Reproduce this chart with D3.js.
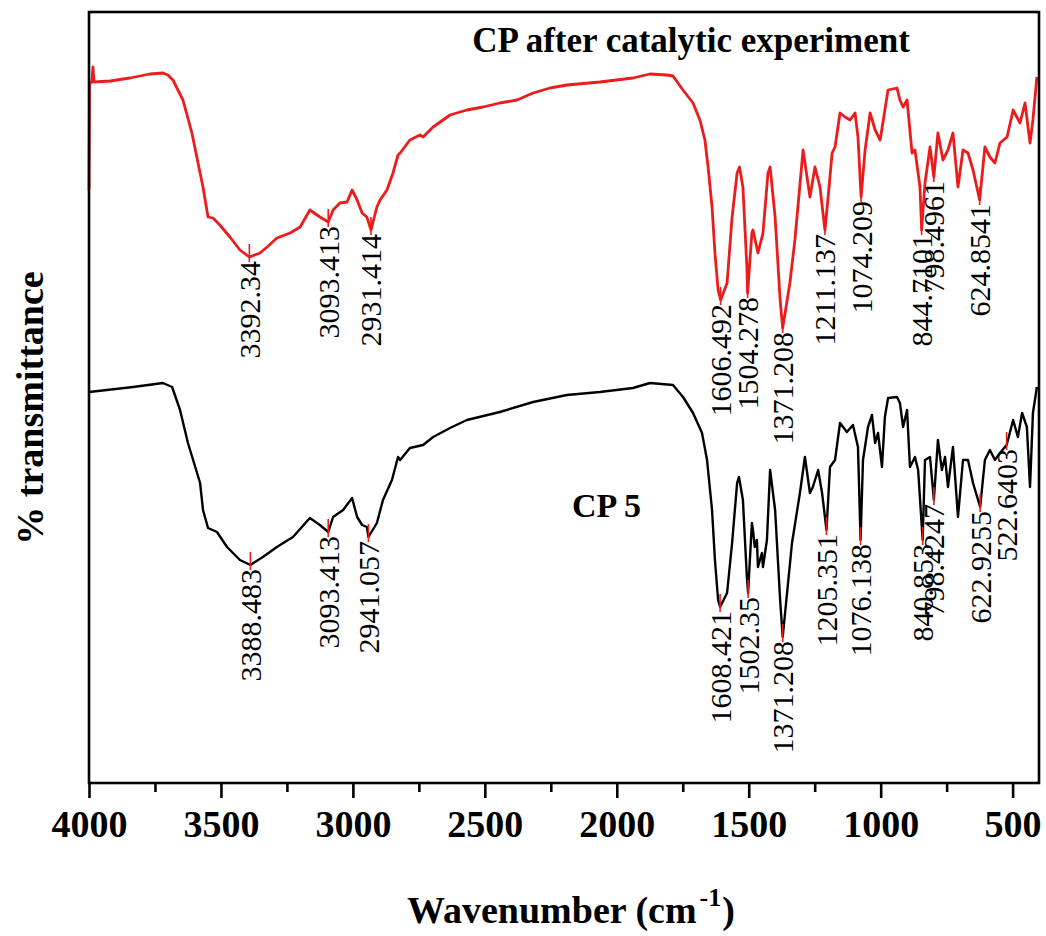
<!DOCTYPE html>
<html>
<head>
<meta charset="utf-8">
<script src="https://cdn.jsdelivr.net/npm/d3@7"></script>
<style>
  html, body { margin: 0; padding: 0; background: #fff; }
  svg { display: block; }
  text { font-family: "Liberation Serif", "Times New Roman", serif; fill: #000; }
</style>
</head>
<body>
<svg id="chart" width="1046" height="936"></svg>
<script>
// FT-IR spectra: [wavenumber (cm-1), transmittance (a.u.)]
const afterCatalysis = [
  [4000, 59.3], [3998, 69.9], [3989, 70.1], [3985, 71.6], [3981, 70.1], [3920, 70.2],
  [3845, 70.5], [3769, 70.9], [3720, 71.0], [3701, 70.8], [3682, 70.3], [3644, 68.3],
  [3610, 65.0], [3579, 61.0], [3568, 59.6], [3549, 56.6], [3530, 56.5], [3504, 55.8],
  [3466, 54.6], [3428, 53.3], [3392.34, 52.6], [3352, 53.0], [3325, 53.6], [3288, 54.5],
  [3238, 55.0], [3200, 55.6], [3163, 57.3], [3125, 56.6], [3093.413, 56.1], [3075, 57.3],
  [3049, 58.0], [3022, 58.1], [3003, 59.3], [2984, 58.3], [2965, 57.0], [2947, 56.6],
  [2931.414, 55.3], [2909, 57.6], [2897, 58.3], [2871, 59.3], [2848, 61.0], [2829, 62.8],
  [2821, 63.0], [2784, 64.3], [2746, 64.8], [2734, 64.6], [2696, 65.6], [2632, 66.8],
  [2568, 67.3], [2507, 67.6], [2443, 68.0], [2378, 68.3], [2317, 69.0], [2253, 69.5],
  [2189, 69.8], [2064, 70.1], [1939, 70.5], [1874, 70.9], [1810, 70.8], [1787, 70.7],
  [1749, 69.3], [1711, 68.0], [1685, 66.3], [1666, 64.3], [1654, 61.6], [1639, 57.6],
  [1628, 53.0], [1616, 49.3], [1606.492, 48.3], [1582, 50.0], [1563, 56.6], [1544, 61.0],
  [1535, 61.6], [1522, 59.6], [1507, 51.6], [1504.278, 49.0], [1488, 55.0], [1484, 55.3],
  [1465, 53.0], [1446, 55.0], [1427, 61.0], [1419, 61.6], [1400, 56.6], [1381, 48.3],
  [1371.208, 45.5], [1344, 50.0], [1325, 54.3], [1294, 63.3], [1268, 58.6], [1249, 61.6],
  [1230, 59.6], [1211.137, 55.3], [1200, 58.3], [1184, 63.0], [1173, 63.6], [1154, 67.0],
  [1135, 66.6], [1116, 66.3], [1097, 67.0], [1086, 64.6], [1074.209, 58.6], [1059, 63.3],
  [1040, 67.0], [1021, 65.3], [1002, 64.3], [984, 67.3], [972, 69.3], [938, 69.5],
  [927, 68.3], [915, 67.6], [900, 68.3], [881, 63.0], [870, 63.3], [851, 59.6],
  [844.7101, 55.3], [832, 60.0], [813, 63.6], [798.4961, 60.6], [783, 65.0], [764, 62.3],
  [745, 63.3], [726, 65.0], [707, 59.6], [688, 63.3], [669, 63.0], [650, 61.3],
  [624.8541, 58.3], [605, 63.6], [586, 62.6], [567, 62.0], [548, 64.0], [521, 64.6],
  [498, 67.3], [472, 66.0], [453, 68.0], [434, 64.0], [423, 66.3], [408, 70.6]
];

const cp5 = [
  [3999, 39.1], [3833, 39.6], [3720, 40.0], [3685, 39.6], [3655, 37.3], [3625, 34.0],
  [3579, 30.0], [3568, 27.3], [3549, 25.5], [3515, 25.1], [3477, 23.6], [3428, 22.3],
  [3388.483, 21.8], [3341, 22.6], [3288, 23.6], [3227, 24.6], [3163, 26.5], [3125, 25.8],
  [3093.413, 25.1], [3075, 26.6], [3037, 27.3], [3003, 28.5], [2984, 26.6], [2965, 25.8],
  [2947, 25.6], [2941.057, 24.6], [2909, 26.0], [2886, 28.3], [2852, 30.3], [2829, 32.6],
  [2821, 32.3], [2784, 33.5], [2734, 33.8], [2696, 34.6], [2632, 35.5], [2568, 36.3],
  [2443, 37.1], [2317, 38.1], [2189, 38.8], [2064, 39.1], [1939, 39.5], [1874, 40.0],
  [1787, 39.8], [1749, 38.6], [1711, 37.0], [1677, 35.0], [1658, 32.3], [1639, 27.3],
  [1628, 22.3], [1616, 18.3], [1608.421, 17.6], [1582, 19.0], [1563, 24.0], [1544, 30.0],
  [1537, 30.6], [1522, 28.3], [1507, 20.6], [1502.35, 19.0], [1488, 26.0], [1484, 25.3],
  [1477, 23.6], [1469, 24.3], [1465, 21.6], [1450, 23.0], [1446, 21.6], [1431, 24.3],
  [1419, 31.3], [1400, 27.3], [1381, 18.3], [1371.208, 14.6], [1336, 24.0], [1306, 29.0],
  [1287, 32.6], [1268, 29.0], [1257, 29.6], [1237, 31.3], [1222, 29.0], [1205.351, 25.3],
  [1192, 31.6], [1173, 32.3], [1154, 36.0], [1128, 35.1], [1105, 35.8], [1086, 33.6],
  [1076.138, 24.3], [1067, 32.3], [1048, 35.6], [1033, 36.8], [1021, 34.0], [1010, 35.0],
  [995, 31.6], [984, 36.6], [972, 38.5], [938, 38.6], [927, 38.0], [915, 35.6],
  [900, 37.3], [889, 31.6], [870, 32.6], [858, 31.3], [840.853, 24.3], [832, 32.3],
  [813, 32.6], [798.4247, 28.3], [783, 34.3], [768, 31.3], [756, 32.6], [745, 29.6],
  [726, 33.6], [707, 26.6], [688, 32.3], [669, 32.3], [650, 30.0], [622.9255, 27.6],
  [605, 32.3], [586, 33.3], [567, 32.3], [548, 33.0], [522.6403, 33.8], [498, 36.3],
  [480, 34.6], [464, 37.0], [446, 35.6], [434, 29.6], [423, 37.0], [408, 39.6]
];

// Labelled band positions (cm-1)
const afterPeaks = [3392.34, 3093.413, 2931.414, 1606.492, 1504.278, 1371.208,
  1211.137, 1074.209, 844.7101, 798.4961, 624.8541];
const cp5Peaks = [3388.483, 3093.413, 2941.057, 1608.421, 1502.35, 1371.208,
  1205.351, 1076.138, 840.853, 798.4247, 622.9255, 522.6403];

const majorTicks = [4000, 3500, 3000, 2500, 2000, 1500, 1000, 500];
const minorTicks = [3750, 3250, 2750, 2250, 1750, 1250, 750];

const seriesNames = ["CP after catalytic experiment", "CP 5"];
const xTitle = "Wavenumber (cm";
const xTitleSup = "-1";
const yTitle = "% transmittance";

const svg = d3.select("#chart");
const plotLeft = 89, plotRight = 1039, plotTop = 12, plotBottom = 783;

const x = d3.scaleLinear().domain([4000, 400]).range([plotLeft, plotRight]);
const y = d3.scaleLinear().domain([0, 77.1]).range([plotBottom, plotTop]);

const line = d3.line().x(d => x(d[0])).y(d => y(d[1]));

const red = "#ec1c1c";

// spectra
svg.append("path").datum(afterCatalysis)
  .attr("d", line).attr("fill", "none").attr("stroke", red)
  .attr("stroke-width", 2.8).attr("stroke-linejoin", "round");
svg.append("path").datum(cp5)
  .attr("d", line).attr("fill", "none").attr("stroke", "#000")
  .attr("stroke-width", 2.4).attr("stroke-linejoin", "round");

// peak markers and labels
function drawPeaks(peaks, data) {
  const g = svg.append("g");
  peaks.forEach(p => {
    const pt = data.find(d => d[0] === p);
    const px = x(p), py = y(pt[1]);
    g.append("line")
      .attr("x1", px).attr("x2", px)
      .attr("y1", py - 13).attr("y2", py + 5)
      .attr("stroke", red).attr("stroke-width", 1.6);
    g.append("text")
      .attr("transform", `translate(${px},${py + 4}) rotate(-90)`)
      .attr("text-anchor", "end")
      .attr("dy", "0.35em")
      .style("font-size", "30px")
      .text(String(p));
  });
}
drawPeaks(afterPeaks, afterCatalysis);
drawPeaks(cp5Peaks, cp5);

// frame
svg.append("rect")
  .attr("x", plotLeft).attr("y", plotTop)
  .attr("width", plotRight - plotLeft).attr("height", plotBottom - plotTop)
  .attr("fill", "none").attr("stroke", "#000").attr("stroke-width", 2.6);

// bottom axis: major ticks with labels, minor ticks without
const axisMajor = d3.axisBottom(x).tickValues(majorTicks).tickSize(15).tickPadding(12)
  .tickFormat(d3.format("d"));
const gMajor = svg.append("g").attr("transform", `translate(0,${plotBottom})`).call(axisMajor);
gMajor.select(".domain").remove();
gMajor.selectAll(".tick line").attr("stroke", "#000").attr("stroke-width", 2.6);
gMajor.selectAll(".tick text")
  .style("font-family", "'Liberation Serif', 'Times New Roman', serif")
  .style("font-size", "38px").style("font-weight", "bold").attr("fill", "#000");

const axisMinor = d3.axisBottom(x).tickValues(minorTicks).tickSize(9).tickFormat("");
const gMinor = svg.append("g").attr("transform", `translate(0,${plotBottom})`).call(axisMinor);
gMinor.select(".domain").remove();
gMinor.selectAll(".tick line").attr("stroke", "#000").attr("stroke-width", 2.6);

// axis titles
const xt = svg.append("text")
  .attr("x", 571).attr("y", 923)
  .attr("text-anchor", "middle")
  .style("font-size", "38px").style("font-weight", "bold");
xt.append("tspan").text(xTitle);
xt.append("tspan").text(xTitleSup).attr("dy", -17).attr("dx", 3).style("font-size", "26px");
xt.append("tspan").text(")").attr("dy", 17).attr("dx", 1);

svg.append("text")
  .attr("transform", "translate(43,408) rotate(-90)")
  .attr("text-anchor", "middle")
  .style("font-size", "38px").style("font-weight", "bold")
  .text(yTitle);

// series captions
svg.append("text")
  .attr("x", 691).attr("y", 52)
  .attr("text-anchor", "middle")
  .style("font-size", "35px").style("font-weight", "bold")
  .text(seriesNames[0]);
svg.append("text")
  .attr("x", 572).attr("y", 517)
  .style("font-size", "34px").style("font-weight", "bold")
  .text(seriesNames[1]);
</script>
</body>
</html>
